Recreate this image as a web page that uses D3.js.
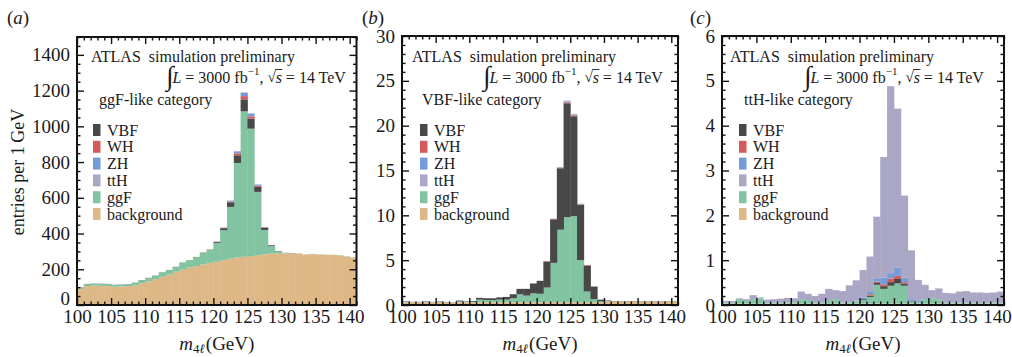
<!DOCTYPE html>
<html>
<head>
<meta charset="utf-8">
<script src="https://cdnjs.cloudflare.com/ajax/libs/d3/7.8.5/d3.min.js"></script>
<style>
  body { margin: 0; background: #fff; }
  svg { display: block; }
  text { font-family: "Liberation Serif", "Times New Roman", serif; fill: #1a1a1a; white-space: pre; }
</style>
</head>
<body>
<svg id="chart" width="1012" height="357"></svg>
<script>
/* Data */
const bins = [100,101,102,103,104,105,106,107,108,109,110,111,112,113,114,115,116,117,118,119,120,
              121,122,123,124,125,126,127,128,129,130,131,132,133,134,135,136,137,138,139,140];
const xTicks = [100,105,110,115,120,125,130,135,140];
const yTicksA = [0,200,400,600,800,1000,1200,1400];
const yTicksB = [0,5,10,15,20,25,30];
const yTicksC = [0,1,2,3,4,5,6];
const stackOrder = ["background","ggF","VBF","WH","ZH","ttH"];
const legendOrder = ["VBF","WH","ZH","ttH","ggF","background"];
const panelLetters = ["a","b","c"];
const categoryNames = ["ggF-like category","VBF-like category","ttH-like category"];

/* (a) ggF-like category */
const bgA   = [90,106,108,107,106,102,104,106,110,122,132,145,158,170,186,198,210,218,228,236,242,
               251,259,266,270,274,279,284,287,289,289,289,288,282,285,283,281,280,278,272,266];
const ggfA  = [8,11,11,11,11,10,10,10,14,17,19,19,24,25,27,39,40,50,63,72,106,
               168,290,529,814,713,354,136,42,11,2,1,1,1,1,1,1,1,1,1,1];
const vbfA  = [1,1,1,1,1,1,1,1,1,1,1,1,1,1,1,1,1,1,2,2,5,
               11,26,43,67,56,28,12,5,2,1,1,0,0,0,0,0,0,0,0,0];
const whA   = [0,0,0,0,0,0,0,0,0,0,0,0,0,0,0,0,0,0,0,0,1,
               2,5,11,18,13,7,3,1,0,0,0,0,0,0,0,0,0,0,0,0];
const zhA   = [0,0,0,0,0,0,0,0,0,0,0,0,0,0,0,0,0,0,0,0,1,
               2,4,11,19,15,6,2,1,0,0,0,0,0,0,0,0,0,0,0,0];
const tthA  = [0,0,0,0,0,0,0,0,0,0,0,0,0,0,0,0,0,0,0,0,0,
               0,1,1,2,2,1,0,0,0,0,0,0,0,0,0,0,0,0,0,0];

/* (b) VBF-like category */
const bgB   = [0.3,0.3,0.3,0.3,0.3,0.3,0.3,0.3,0.3,0.3,0.3,0.3,0.3,0.3,0.3,0.3,0.3,0.3,0.3,0.3,0.3,
               0.3,0.3,0.3,0.3,0.3,0.3,0.3,0.3,0.3,0.4,0.4,0.4,0.4,0.4,0.4,0.4,0.4,0.4,0.4,0.4];
const ggfB  = [0.05,0.03,0.03,0.05,0.03,0.05,0.03,0.02,0.1,0.05,0.05,0.3,0.25,0.25,0.3,0.3,0.45,0.9,0.75,1.0,0.95,
               1.65,4.4,8.1,9.5,9.6,4.7,1.2,0.35,0.1,0.03,0.02,0.02,0.02,0.02,0.02,0.02,0.02,0.02,0.02,0.02];
const vbfB  = [0.05,0.02,0.02,0.05,0.02,0.05,0.02,0.0,0.1,0.05,0.1,0.2,0.2,0.2,0.25,0.3,0.45,0.6,0.75,1.1,1.45,
               2.9,4.85,6.85,12.7,11.15,6.15,2.9,1.4,0.2,0.07,0.03,0.03,0.03,0.03,0.03,0.03,0.03,0.03,0.03,0.03];
const whB   = [0,0,0,0,0,0,0,0,0,0,0,0,0,0,0,0,0,0,0,0,0,
               0.03,0.05,0.07,0.1,0.1,0.07,0.05,0.03,0,0,0,0,0,0,0,0,0,0,0,0];
const zhB   = [0,0,0,0,0,0,0,0,0,0,0,0,0,0,0,0,0,0,0,0,0,
               0,0.03,0.04,0.1,0.06,0.04,0,0,0,0,0,0,0,0,0,0,0,0,0,0];
const tthB  = [0,0,0,0,0,0,0,0,0,0,0,0,0,0,0,0,0,0,0,0,0,
               0,0,0.04,0.1,0.1,0.04,0,0,0,0,0,0,0,0,0,0,0,0,0,0];

/* (c) ttH-like category */
const bgC   = [0.03,0.03,0.03,0.03,0.03,0.03,0.03,0.03,0.03,0.03,0.03,0.03,0.03,0.03,0.03,0.03,0.03,0.03,0.03,0.03,0.03,
               0.03,0.03,0.03,0.03,0.03,0.03,0.03,0.03,0.03,0.03,0.03,0.03,0.03,0.03,0.03,0.03,0.03,0.03,0.03,0.03];
const ggfC  = [0.02,0.02,0.1,0.06,0.1,0.12,0.02,0.02,0.02,0.02,0.03,0.1,0.08,0.02,0.02,0.08,0.1,0.02,0.03,0.05,0.08,
               0.15,0.42,0.33,0.4,0.45,0.4,0.04,0.03,0.1,0.12,0.1,0.02,0.02,0.02,0.02,0.02,0.02,0.02,0.02,0.02];
const vbfC  = [0,0,0,0,0,0,0,0,0,0,0,0,0,0,0,0,0,0,0,0,0.02,
               0.03,0.04,0.06,0.08,0.1,0.05,0.01,0,0,0,0,0,0,0,0,0,0,0,0,0];
const whC   = [0,0,0,0,0,0,0,0,0,0,0,0,0,0,0,0,0,0,0,0,0,
               0.03,0.03,0.04,0.08,0.07,0.03,0.01,0,0,0,0,0,0,0,0,0,0,0,0,0];
const zhC   = [0,0,0,0,0,0,0,0,0,0,0,0,0,0,0,0,0,0,0,0.02,0.03,
               0.05,0.06,0.15,0.12,0.18,0.1,0.04,0.03,0,0,0,0,0,0,0,0,0,0,0,0];
const tthC  = [0.04,0.04,0.02,0.04,0.09,0.02,0.07,0.08,0.09,0.11,0.09,0.17,0.14,0.15,0.2,0.25,0.2,0.26,0.38,0.45,0.62,
               0.79,1.39,2.69,4.17,3.55,1.83,1.09,0.47,0.32,0.18,0.24,0.22,0.21,0.25,0.26,0.23,0.23,0.22,0.23,0.25];

/* Colours */
const colors = {
  VBF: "#484848", WH: "#d35b5b", ZH: "#739cd9", ttH: "#aaa7c6",
  ggF: "#82c4a1", background: "#deb887"
};

/* Panel layout */
const panels = [
  { values: {background: bgA, ggF: ggfA, VBF: vbfA, WH: whA, ZH: zhA, ttH: tthA},
    yTicks: yTicksA, yMax: 1500, yMinor: 50,
    left: 77, right: 356.5, top: 37, bottom: 305, zeroShift: -7,
    letterX: 7, atlasDx: 14, lumiDx: 89, catDx: 22, legDx: 16 },
  { values: {background: bgB, ggF: ggfB, VBF: vbfB, WH: whB, ZH: zhB, ttH: tthB},
    yTicks: yTicksB, yMax: 30, yMinor: 1,
    left: 402, right: 678, top: 36, bottom: 305, zeroShift: 0,
    letterX: 362, atlasDx: 10, lumiDx: 81, catDx: 20, legDx: 18 },
  { values: {background: bgC, ggF: ggfC, VBF: vbfC, WH: whC, ZH: zhC, ttH: tthC},
    yTicks: yTicksC, yMax: 6, yMinor: 0.2,
    left: 722, right: 1004, top: 36, bottom: 305, zeroShift: 0,
    letterX: 690, atlasDx: 8, lumiDx: 82, catDx: 22, legDx: 17 }
];

const svg = d3.select("#chart");

/* lay text pieces side by side */
function placeSegments(g, x0, y0, segs) {
  let x = x0;
  segs.forEach(s => {
    const t = g.append("text")
      .attr("x", x).attr("y", y0 + (s.dy || 0))
      .attr("dominant-baseline", "central")
      .style("font-size", (s.size || 16) + "px")
      .style("font-style", s.italic ? "italic" : "normal")
      .text(s.t);
    const w = t.node().getComputedTextLength();
    if (s.overline) {
      g.append("line")
        .attr("x1", x - 0.5).attr("x2", x + w + 0.5)
        .attr("y1", y0 - 7.5).attr("y2", y0 - 7.5)
        .attr("stroke", "#1a1a1a").attr("stroke-width", 0.9);
    }
    x += w + (s.gap || 0);
  });
}

panels.forEach((p, pi) => {
  const g = svg.append("g");
  const x = d3.scaleLinear().domain([100, 141]).range([p.left, p.right]);
  const y = d3.scaleLinear().domain([0, p.yMax]).range([p.bottom, p.top]);

  const rows = bins.map((b, i) => {
    const r = { bin: b };
    stackOrder.forEach(k => { r[k] = p.values[k][i]; });
    return r;
  });
  const stacked = d3.stack().keys(stackOrder)(rows);

  const clipId = "clip" + pi;
  g.append("clipPath").attr("id", clipId).append("rect")
    .attr("x", p.left).attr("y", p.top)
    .attr("width", p.right - p.left).attr("height", p.bottom - p.top);

  g.append("g").attr("clip-path", `url(#${clipId})`)
    .selectAll("g").data(stacked).join("g")
      .attr("fill", d => colors[d.key])
    .selectAll("rect").data(d => d).join("rect")
      .attr("x", d => x(d.data.bin))
      .attr("width", d => x(d.data.bin + 1) - x(d.data.bin) + 0.4)
      .attr("y", d => y(d[1]))
      .attr("height", d => Math.max(0, y(d[0]) - y(d[1])));

  /* ticks, all pointing inward */
  const xMinor = d3.range(100, 141.01, 1).filter(v => v % 5 !== 0);
  const yMinor = d3.range(0, p.yMax + 1e-9, p.yMinor)
    .filter(v => !p.yTicks.some(t => Math.abs(t - v) < 1e-6));
  const plain = d => String(d);

  const axes = [
    [d3.axisBottom(x).tickValues(xTicks).tickSize(-7).tickPadding(5).tickFormat(plain), `translate(0,${p.bottom})`, "x"],
    [d3.axisBottom(x).tickValues(xMinor).tickSize(-3.5).tickFormat(""), `translate(0,${p.bottom})`],
    [d3.axisTop(x).tickValues(xTicks).tickSize(-7).tickFormat(""), `translate(0,${p.top})`],
    [d3.axisTop(x).tickValues(xMinor).tickSize(-3.5).tickFormat(""), `translate(0,${p.top})`],
    [d3.axisLeft(y).tickValues(p.yTicks).tickSize(-7).tickPadding(7).tickFormat(plain), `translate(${p.left},0)`, "y"],
    [d3.axisLeft(y).tickValues(yMinor).tickSize(-3.5).tickFormat(""), `translate(${p.left},0)`],
    [d3.axisRight(y).tickValues(p.yTicks).tickSize(-7).tickFormat(""), `translate(${p.right},0)`],
    [d3.axisRight(y).tickValues(yMinor).tickSize(-3.5).tickFormat(""), `translate(${p.right},0)`]
  ];
  axes.forEach(([ax, tr, labelled]) => {
    const a = g.append("g").attr("transform", tr).call(ax);
    a.select(".domain").remove();
    a.selectAll(".tick line").attr("stroke", "#111").attr("stroke-width", 1.4);
    if (labelled) {
      const tx = a.selectAll(".tick text")
        .attr("fill", "#1a1a1a")
        .style("font-family", '"Liberation Serif", serif')
        .style("font-size", "19px");
      /* the 0 label of panel (a) sits a little higher */
      if (labelled === "y") {
        tx.filter(d => d === 0).attr("dy", (0.32 * 19 + p.zeroShift) + "px");
      }
    }
  });

  g.append("rect")
    .attr("x", p.left).attr("y", p.top)
    .attr("width", p.right - p.left).attr("height", p.bottom - p.top)
    .attr("fill", "none").attr("stroke", "#111").attr("stroke-width", 2);

  /* panel letter */
  placeSegments(g, p.letterX, 17, [
    {t: "(", size: 19}, {t: panelLetters[pi], size: 19, italic: true}, {t: ")", size: 19}
  ]);

  /* header texts */
  g.append("text")
    .attr("x", p.left + p.atlasDx).attr("y", 56)
    .attr("dominant-baseline", "central")
    .style("font-size", "16px")
    .text("ATLAS  simulation preliminary");

  placeSegments(g, p.left + p.lumiDx, 77, [
    {t: "\u222B", size: 27, dy: -1, gap: -1},
    {t: "L", italic: true},
    {t: " = 3000 fb"},
    {t: "\u22121", size: 11, dy: -6},
    {t: ", "},
    {t: "\u221A", size: 15},
    {t: "s", italic: true, overline: true},
    {t: " = 14 TeV"}
  ]);

  g.append("text")
    .attr("x", p.left + p.catDx).attr("y", 99)
    .attr("dominant-baseline", "central")
    .style("font-size", "16px")
    .text(categoryNames[pi]);

  /* legend */
  const leg = g.selectAll(".leg").data(legendOrder).join("g")
    .attr("transform", (d, i) => `translate(${p.left + p.legDx},${130 + i * 16.8})`);
  leg.append("rect")
    .attr("x", 0).attr("y", -6).attr("width", 7.5).attr("height", 12)
    .attr("fill", d => colors[d]);
  leg.append("text")
    .attr("x", 14).attr("y", 0)
    .attr("dominant-baseline", "central")
    .style("font-size", "16px")
    .text(d => d);

  /* x title */
  const xt = g.append("g");
  placeSegments(xt, 0, 343, [
    {t: "m", size: 19, italic: true},
    {t: "4", size: 13, dy: 5},
    {t: "\u2113", size: 13, dy: 5, italic: true, gap: 1},
    {t: "(GeV)", size: 19}
  ]);
  const bb = xt.node().getBBox();
  xt.attr("transform", `translate(${(p.left + p.right) / 2 - bb.width / 2},0)`);
});

/* y title */
svg.append("text")
  .attr("transform", "translate(18,172) rotate(-90)")
  .attr("text-anchor", "middle")
  .attr("dominant-baseline", "central")
  .style("font-size", "18px")
  .text("entries per 1\u2009GeV");
</script>
</body>
</html>
